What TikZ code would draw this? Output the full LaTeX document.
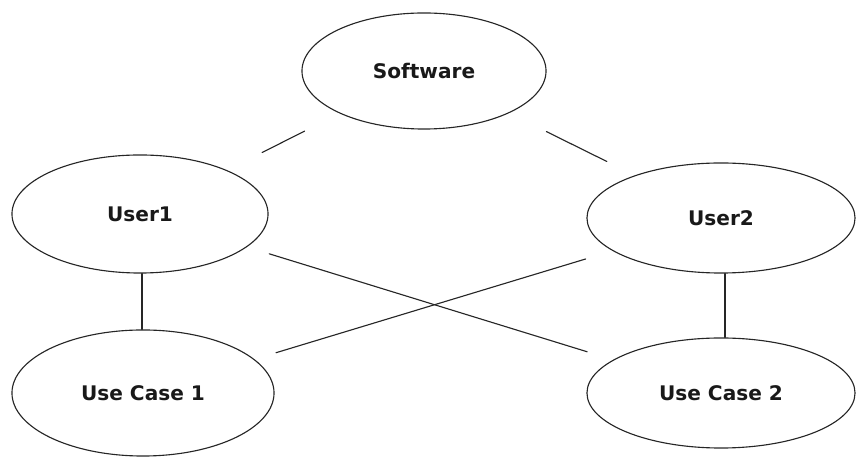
\documentclass[tikz,border=0pt]{standalone}
\usepackage{fontspec}
\setmainfont{DejaVu Sans}
\usepackage{tikz}
\usetikzlibrary{shapes.geometric}
\tikzset{
	usecase/.style={draw=black!85, ellipse, line width=0.8pt, inner sep=0pt,
		font=\fontsize{14.3}{17}\selectfont\bfseries, text=black!90},
	link/.style={black!85, line width=0.8pt},
}

\begin{document}
\begin{tikzpicture}[x=0.025cm, y=-0.025cm, line cap=round, line join=round]
			
			% Frame of the picture
			\useasboundingbox (0,0) rectangle (856,457);
			
			% System on top
			\node[usecase, minimum width=6.1cm, minimum height=2.9cm] (soft) at (424,71) {Software};
			
			% Actors
			\node[usecase, minimum width=6.4cm, minimum height=2.95cm] (user1) at (140,214) {User1};
			\node[usecase, minimum width=6.7cm, minimum height=2.75cm] (user2) at (721,218) {User2};
			
			% Use cases
			\node[usecase, minimum width=6.55cm, minimum height=3.15cm] (uc1) at (143,393) {Use Case 1};
			\node[usecase, minimum width=6.7cm, minimum height=2.75cm] (uc2) at (721,393) {Use Case 2};
			
			% Short links to the software
			\draw[link, shorten <=0.98cm, shorten >=0.98cm] (soft) -- (user1);
			\draw[link, shorten <=1.04cm, shorten >=0.78cm] (soft) -- (user2);
			
			% Vertical links
			\draw[link] ([xshift=0.05cm]user1.south) -- ([xshift=0.05cm]user1.south |- uc1.north);
			\draw[link] ([xshift=0.1cm]user2.south) -- ([xshift=0.1cm]user2.south |- uc2.north);
			
			% Crossing links
			\draw[link, shorten <=0.58cm, shorten >=0.68cm] (user1) -- (uc2);
			\draw[link, shorten <=0.7cm, shorten >=0.56cm] (user2) -- (uc1);
			
		\end{tikzpicture}
\end{document}
